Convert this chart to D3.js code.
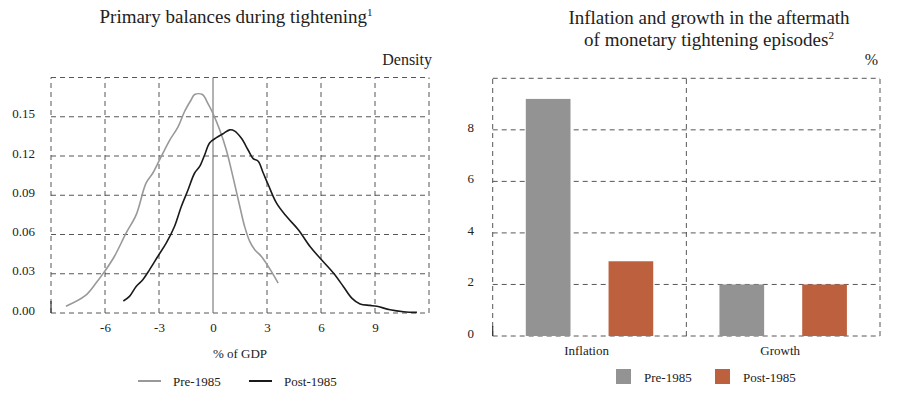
<!DOCTYPE html>
<html>
<head>
<meta charset="utf-8">
<script src="https://cdn.jsdelivr.net/npm/d3@7"></script>
<style>
  body { margin: 0; background: #fff; }
  svg { font-family: "Liberation Serif", "Times New Roman", serif; }
</style>
</head>
<body>
<script>
// ---- data ----
// left panel: density of primary balances (% of GDP)
var preX  = [-8.17,-7.10,-6.50,-6.02,-5.48,-4.83,-4.27,-3.72,-3.34,-2.97,-2.41,-1.95,-1.58,-1.21,-1.02,-0.59,-0.28,0,0.37,0.74,1.11,1.49,1.76,2.04,2.32,2.69,3.07,3.62];
var preY  = [0.0051,0.0132,0.0229,0.0318,0.0432,0.061,0.075,0.0992,0.107,0.117,0.132,0.142,0.154,0.163,0.167,0.167,0.160,0.1525,0.140,0.1246,0.104,0.0814,0.066,0.0547,0.0483,0.0432,0.0356,0.0229];
var postX = [-4.98,-4.64,-4.27,-3.90,-3.53,-3.07,-2.60,-2.14,-1.76,-1.39,-1.02,-0.74,-0.46,-0.19,0.19,0.56,0.93,1.21,1.58,1.95,2.23,2.51,2.79,3.07,3.53,4.09,4.74,5.39,5.94,6.69,7.24,7.71,8.17,8.73,9.10,9.84,10.59,11.33];
var postY = [0.0092,0.0127,0.0203,0.0254,0.033,0.0432,0.0534,0.0661,0.0814,0.094,0.107,0.112,0.121,0.130,0.134,0.137,0.140,0.139,0.1335,0.1246,0.118,0.116,0.107,0.098,0.084,0.0737,0.0636,0.0508,0.042,0.0305,0.0203,0.0114,0.0069,0.0058,0.0051,0.0025,0.001,0.0005];
var xTicksL = [-6, -3, 0, 3, 6, 9];
var yTicksL = [0, 0.03, 0.06, 0.09, 0.12, 0.15];

// right panel: inflation and growth (%)
var categories = ["Inflation", "Growth"];
var seriesNames = ["Pre-1985", "Post-1985"];
var pre1985  = [9.2, 2.0];
var post1985 = [2.9, 2.0];
var yTicksR = [0, 2, 4, 6, 8];

var W = 900, H = 396;
var gridColor = "#444";
var textColor = "#222";

var svg = d3.select("body").append("svg")
  .attr("width", W).attr("height", H);

// ================= left panel =================
var xL = d3.scaleLinear().domain([-9, 12]).range([51, 429]);
var yL = d3.scaleLinear().domain([0, 0.18]).range([313, 77.5]);

var left = svg.append("g");

// grid, dashed
left.selectAll(".hgrid")
  .data(yTicksL.concat([0.18]))
  .enter().append("line")
    .attr("x1", xL(-9)).attr("x2", xL(12))
    .attr("y1", function(d){ return yL(d); })
    .attr("y2", function(d){ return yL(d); })
    .attr("stroke", gridColor).attr("stroke-width", 0.9)
    .attr("stroke-dasharray", "5,4");

left.selectAll(".vgrid")
  .data([-9, -6, -3, 3, 6, 9, 12])
  .enter().append("line")
    .attr("y1", yL(0)).attr("y2", yL(0.18))
    .attr("x1", function(d){ return xL(d); })
    .attr("x2", function(d){ return xL(d); })
    .attr("stroke", gridColor).attr("stroke-width", 0.9)
    .attr("stroke-dasharray", "5,4");

// solid zero line
left.append("line")
  .attr("x1", xL(0)).attr("x2", xL(0))
  .attr("y1", yL(0)).attr("y2", yL(0.18))
  .attr("stroke", "#666").attr("stroke-width", 1);

// little solid stub at the bottom-left corner
left.append("line")
  .attr("x1", xL(-9)).attr("x2", xL(-9))
  .attr("y1", yL(0)).attr("y2", yL(0) - 12)
  .attr("stroke", "#333").attr("stroke-width", 1.2);

// axes labels via d3 axes (domain and ticks hidden)
var axL = left.append("g")
  .attr("transform", "translate(0," + (yL(0) + 7) + ")")
  .call(d3.axisBottom(xL).tickValues(xTicksL).tickSize(0)
    .tickFormat(function(d){ return String(d); }));
var ayL = left.append("g")
  .attr("transform", "translate(38,-3)")
  .call(d3.axisLeft(yL).tickValues(yTicksL).tickSize(0).tickFormat(d3.format(".2f")));
[axL, ayL].forEach(function(a){
  a.select(".domain").remove();
  a.selectAll("text")
    .attr("font-family", "Liberation Serif").attr("font-size", 13).attr("fill", textColor);
});

// curves
var lineL = d3.line()
  .x(function(d){ return xL(d[0]); })
  .y(function(d){ return yL(d[1]); })
  .curve(d3.curveCatmullRom);

left.append("path")
  .datum(d3.zip(preX, preY))
  .attr("d", lineL).attr("fill", "none")
  .attr("stroke", "#999").attr("stroke-width", 1.6);
left.append("path")
  .datum(d3.zip(postX, postY))
  .attr("d", lineL).attr("fill", "none")
  .attr("stroke", "#1a1a1a").attr("stroke-width", 1.6);

// titles and labels
var tL = left.append("text")
  .attr("x", 236).attr("y", 23)
  .attr("text-anchor", "middle").attr("font-size", 19).attr("fill", textColor);
tL.append("tspan").text("Primary balances during tightening");
tL.append("tspan").attr("font-size", 11).attr("dy", -7).text("1");
left.append("text")
  .attr("x", 432).attr("y", 65).attr("text-anchor", "end")
  .attr("font-size", 16).attr("fill", textColor).text("Density");
left.append("text")
  .attr("x", 240).attr("y", 358).attr("text-anchor", "middle")
  .attr("font-size", 13).attr("fill", textColor).text("% of GDP");

// legend
var legL = left.selectAll(".legL")
  .data([{name: "Pre-1985", color: "#999", x: 138}, {name: "Post-1985", color: "#1a1a1a", x: 249}])
  .enter().append("g")
    .attr("transform", function(d){ return "translate(" + d.x + ",381)"; });
legL.append("line")
  .attr("x1", 0).attr("x2", 23).attr("y1", 0).attr("y2", 0)
  .attr("stroke", function(d){ return d.color; }).attr("stroke-width", 2);
legL.append("text")
  .attr("x", 35).attr("y", 4.5)
  .attr("font-size", 13).attr("fill", textColor)
  .text(function(d){ return d.name; });

// ================= right panel =================
var x0 = d3.scaleBand().domain(categories).range([492.7, 880]).paddingInner(0).paddingOuter(0);
var x1 = d3.scaleBand().domain(seriesNames).range([0, x0.bandwidth()]).paddingInner(0.46).paddingOuter(0.40);
var yR = d3.scaleLinear().domain([0, 10]).range([336, 78.3]);
var color = d3.scaleOrdinal().domain(seriesNames).range(["#939393", "#bd603e"]);

var right = svg.append("g");

right.selectAll(".hgridR")
  .data(yTicksR.concat([10]))
  .enter().append("line")
    .attr("x1", x0.range()[0]).attr("x2", x0.range()[1])
    .attr("y1", function(d){ return yR(d); })
    .attr("y2", function(d){ return yR(d); })
    .attr("stroke", gridColor).attr("stroke-width", 0.9)
    .attr("stroke-dasharray", "5,4");

right.selectAll(".vgridR")
  .data([x0.range()[0], x0("Growth"), x0.range()[1]])
  .enter().append("line")
    .attr("x1", function(d){ return d; }).attr("x2", function(d){ return d; })
    .attr("y1", yR(0)).attr("y2", yR(10))
    .attr("stroke", gridColor).attr("stroke-width", 0.9)
    .attr("stroke-dasharray", "5,4");

right.append("line")
  .attr("x1", x0.range()[0]).attr("x2", x0.range()[0])
  .attr("y1", yR(0)).attr("y2", yR(0) - 10)
  .attr("stroke", "#333").attr("stroke-width", 1.2);

var barData = [];
categories.forEach(function(c, i){
  barData.push({cat: c, series: "Pre-1985", value: pre1985[i]});
  barData.push({cat: c, series: "Post-1985", value: post1985[i]});
});

right.selectAll(".bar")
  .data(barData)
  .enter().append("rect")
    .attr("x", function(d){ return x0(d.cat) + x1(d.series); })
    .attr("width", x1.bandwidth())
    .attr("y", function(d){ return yR(d.value); })
    .attr("height", function(d){ return yR(0) - yR(d.value); })
    .attr("fill", function(d){ return color(d.series); });

var axR = right.append("g")
  .attr("transform", "translate(0," + (yR(0) + 7) + ")")
  .call(d3.axisBottom(x0).tickSize(0));
var ayR = right.append("g")
  .attr("transform", "translate(477,-3)")
  .call(d3.axisLeft(yR).tickValues(yTicksR).tickSize(0));
[axR, ayR].forEach(function(a){
  a.select(".domain").remove();
  a.selectAll("text")
    .attr("font-family", "Liberation Serif").attr("font-size", 13).attr("fill", textColor);
});
axR.selectAll("text").attr("dx", -3);

var tR = right.append("text")
  .attr("text-anchor", "middle").attr("font-size", 19).attr("fill", textColor);
tR.append("tspan").attr("x", 709).attr("y", 24).text("Inflation and growth in the aftermath");
var tR2 = right.append("text")
  .attr("text-anchor", "middle").attr("font-size", 19).attr("fill", textColor)
  .attr("x", 709).attr("y", 46);
tR2.append("tspan").text("of monetary tightening episodes");
tR2.append("tspan").attr("font-size", 11).attr("dy", -7).text("2");
right.append("text")
  .attr("x", 878).attr("y", 65).attr("text-anchor", "end")
  .attr("font-size", 16).attr("fill", textColor).text("%");

// legend
var legR = right.selectAll(".legR")
  .data([{name: "Pre-1985", x: 616}, {name: "Post-1985", x: 715}])
  .enter().append("g")
    .attr("transform", function(d){ return "translate(" + d.x + ",369)"; });
legR.append("rect")
  .attr("width", 15).attr("height", 15)
  .attr("fill", function(d){ return color(d.name); });
legR.append("text")
  .attr("x", 28).attr("y", 13)
  .attr("font-size", 13).attr("fill", textColor)
  .text(function(d){ return d.name; });
</script>
</body>
</html>
